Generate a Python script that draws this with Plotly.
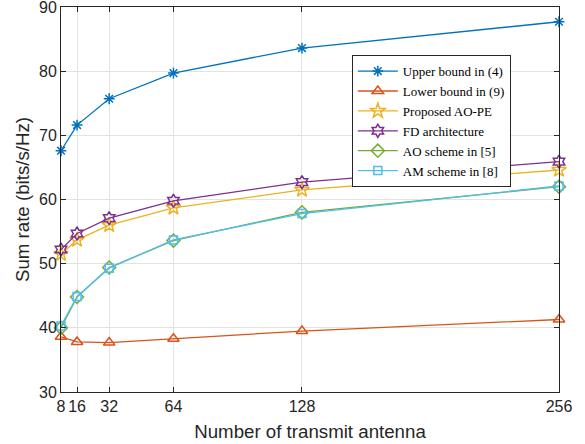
import plotly.graph_objects as go

antennas = [8, 16, 32, 64, 128, 256]
upper_bound = [67.6, 71.6, 75.7, 79.7, 83.6, 87.7]
lower_bound = [38.6, 37.8, 37.7, 38.3, 39.5, 41.3]
proposed = [51.5, 53.7, 56.0, 58.7, 61.5, 64.6]
fd_arch = [52.2, 54.7, 57.1, 59.8, 62.7, 65.9]
ao_scheme = [40.0, 44.8, 49.4, 53.6, 58.0, 62.0]
am_scheme = [40.3, 44.9, 49.3, 53.7, 57.8, 62.1]
y_ticks = [30, 40, 50, 60, 70, 80, 90]

series = [
    ("Upper bound in (4)", upper_bound, "#0072BD", "asterisk-open", 9),
    ("Lower bound in (9)", lower_bound, "#D95319", "triangle-up-open", 10),
    ("Proposed AO-PE", proposed, "#EDB120", "star-open", 11),
    ("FD architecture", fd_arch, "#7E2F8E", "hexagram-open", 10),
    ("AO scheme in [5]", ao_scheme, "#77AC30", "diamond-open", 10),
    ("AM scheme in [8]", am_scheme, "#4DBEEE", "square-open", 8),
]

fig = go.Figure()
for name, vals, color, sym, size in series:
    fig.add_trace(go.Scatter(
        x=antennas, y=vals, name=name, mode="lines+markers",
        line=dict(color=color, width=1.3),
        marker=dict(symbol=sym, size=size, color=color, line=dict(color=color, width=1.5)),
        cliponaxis=False,
    ))

axis_common = dict(
    showline=True, linecolor="#262626", linewidth=1, mirror="ticks",
    ticks="inside", ticklen=5, tickcolor="#262626",
    showgrid=True, gridcolor="#e3e3e3", gridwidth=1, zeroline=False,
    automargin=False, ticklabeloverflow="allow",
    tickfont=dict(family="Arial", size=16, color="#262626"),
)

fig.update_layout(
    width=585, height=444,
    margin=dict(l=61, r=26, t=7, b=52),
    paper_bgcolor="white", plot_bgcolor="white",
    font=dict(family="Arial", size=16, color="#262626"),
    xaxis=dict(
        range=[8, 256], tickmode="array", tickvals=antennas,
        ticktext=[str(a) for a in antennas],
        title=dict(text="Number of transmit antenna", standoff=10,
                   font=dict(family="Arial", size=18.7, color="#262626")),
        **axis_common,
    ),
    yaxis=dict(
        range=[30, 90], tickmode="array", tickvals=y_ticks,
        ticktext=[str(v) for v in y_ticks],
        title=dict(text="Sum rate (bits/s/Hz)", standoff=4,
                   font=dict(family="Arial", size=18.7, color="#262626")),
        **axis_common,
    ),
    legend=dict(
        x=0.584, y=0.875, xanchor="left", yanchor="top",
        bgcolor="white", bordercolor="#262626", borderwidth=1,
        font=dict(family="Times New Roman", size=13, color="black"),
        tracegroupgap=0, itemwidth=40,
    ),
    showlegend=True,
)

fig.write_html(
    "out.html",
    config={"displayModeBar": False},
    post_script="document.body.style.margin='0px';document.body.style.padding='0px';",
)
